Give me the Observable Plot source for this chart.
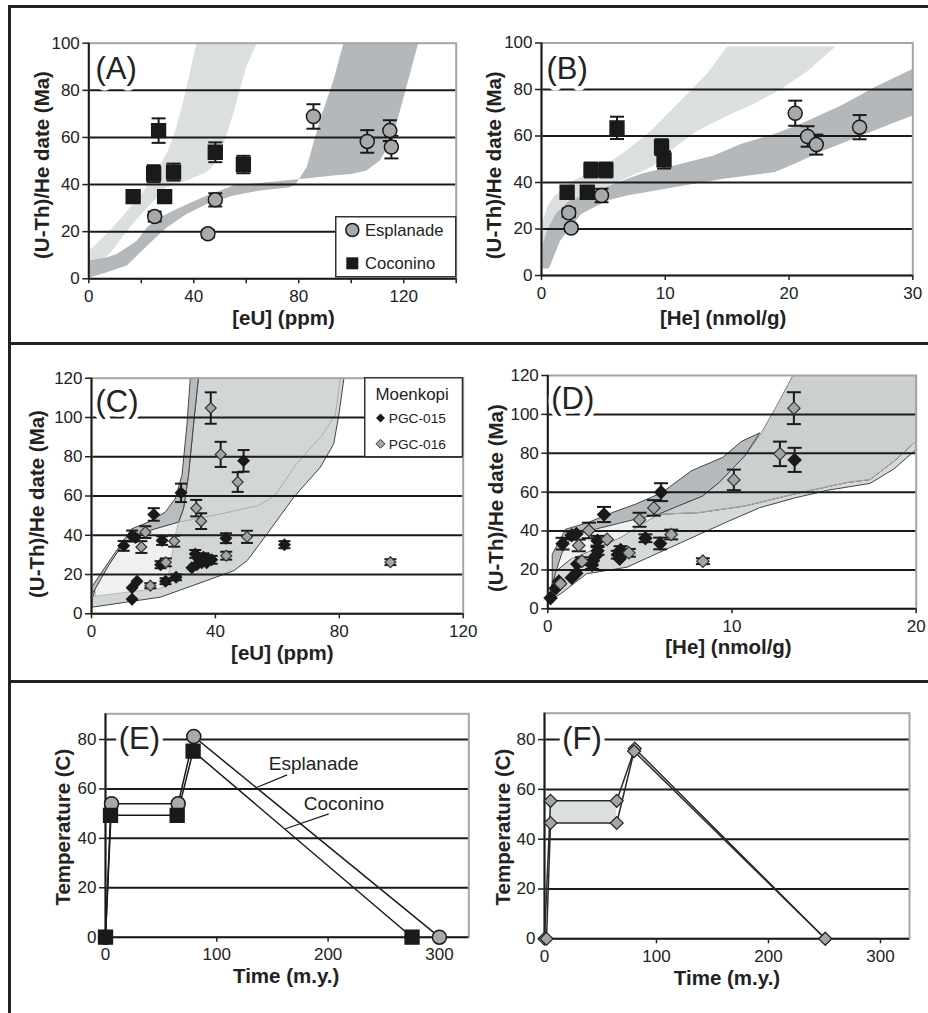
<!DOCTYPE html>
<html><head><meta charset="utf-8">
<script src="https://cdn.jsdelivr.net/npm/d3@7"></script>
<script src="https://cdn.jsdelivr.net/npm/@observablehq/plot@0.6"></script>
<style>
body{margin:0;background:#fff;}
#fig{position:relative;width:928px;height:1013px;overflow:hidden;background:#fff;font-family:'Liberation Sans',Arial,Helvetica,sans-serif;}
.hl{position:absolute;background:#222;}
.pn{position:absolute;}
</style></head><body><div id="fig"></div>
<script>
// ---------------- DATA ----------------
// [x, y, error]
const A_esplanade = [[25.1,26.4,2.1],[45.4,19.1,1.5],[48.2,33.5,2.8],[85.6,68.9,5.2],[106.1,58.3,4.8],[114.7,62.9,4.4],[115.3,55.9,4.8]];
const A_coconino  = [[16.9,34.9,2],[26.6,62.9,5.2],[24.7,44.6,3.6],[28.9,34.9,2],[32.3,45.3,3.6],[48.2,53.7,4.2],[58.9,48.5,3.7]];
const B_esplanade = [[2.2,27,1.8],[2.4,20.4,1.3],[4.85,34.4,2.9],[20.5,69.8,5.4],[21.5,59.8,4.4],[22.2,56.3,4.3],[25.7,63.8,5.2]];
const B_coconino  = [[2.07,35.8,2],[3.7,35.8,2],[4.0,45.4,3.2],[5.2,45.4,3.2],[6.1,63.5,4.8],[9.7,55.2,3.4],[9.9,49.7,3.7]];
const C_pgc015 = [[10.4,34.6,2.5],[13.1,39.6,2.8],[14.2,38.8,0],[20.1,50.6,3.2],[22.8,37.3,2.2],[22.3,25,1.8],[23.9,16.6,1.5],[27.3,18.6,1.5],[13.1,13.3,0],[14.7,16.6,0],[13.1,7.4,0],[28.9,61.6,4.7],[43.4,38.5,2.5],[49.1,77.9,5.5],[62.3,35.2,1.8],[33.5,30.5,2],[34.5,28,0],[36.1,28.8,2],[37.7,28,0],[38.8,27.5,2],[32.4,23.5,0],[34,25,0],[35.6,26,0],[37.2,26,0]];
const C_pgc016 = [[17.4,41.6,3],[16.1,34,3],[26.7,37,2.8],[24,26.2,2],[19,14.3,1.3],[38.5,104.8,8],[41.7,81.2,6.4],[47.2,67.1,5],[33.8,53.8,4.2],[35.4,47.2,4],[50.2,39.2,3.1],[43.5,29.6,2],[96.5,26.3,1.5]];
const D_pgc015 = [[0.8,33.5,3],[1.3,37.8,2],[1.55,38.5,0],[3.05,48.5,3.9],[2.7,35,2.5],[5.3,36.3,2],[6.1,33.6,3],[6.15,60,4.6],[13.4,76.6,6.2],[0.15,5.5,0],[0.42,10.5,0],[0.6,14,0],[1.3,16,0],[1.55,18.3,0],[1.6,23,0],[2.4,22.5,2],[2.45,24.7,0],[2.6,27.2,0],[2.7,29.8,2],[3.8,27.8,2],[3.95,30.2,2],[3.9,25.8,0]];
const D_pgc016 = [[2.23,40.3,4],[1.68,32.6,3],[3.22,35.7,0],[1.86,24.5,2],[0.69,12.9,0],[4.4,28.8,2],[4.98,45.8,3.6],[5.76,51.9,4],[6.7,38.2,2.5],[8.42,24.5,1.5],[10.1,66.3,5.3],[12.6,79.7,6.3],[13.36,103.2,8.2]];
// thermal histories [time, temperature]
const E_esplanade = [[0,0],[5.4,54],[65.3,54],[79.3,81.2],[300,0]];
const E_coconino  = [[0,0],[4.5,49.3],[64.4,49.3],[78.7,75.3],[275.4,0]];
const F_upper = [[0,0],[5.4,55.4],[64.5,55.4],[80.6,76.4],[250.7,0]];
const F_lower = [[1.8,0],[5.4,46.5],[64.5,46.5],[80,75.3],[250.7,0]];
const F_shade = [[5.4,46.5,55.4],[64.5,46.5,55.4]];
// model envelopes (polygons [x, y])
const A_bandLight = [[0,12],[3,15],[8,20.5],[14,28],[20,36],[25,44],[30,54],[33,63],[35,71],[38,85],[41,100],[64,100],[60,90],[57.7,81],[55,70],[52.6,61.5],[49,50],[45,45.3],[38,42],[29.8,38.9],[22,30],[14.6,20.5],[9,12],[5.7,8.5],[0.6,7.8],[0,7.8]];
const A_bandDark = [[0,7.8],[7,9.2],[10.8,10.6],[14,13],[18.4,16.3],[22.2,21.9],[27,26],[32.3,29],[38,32],[45,35.4],[55.1,39.6],[67.8,41],[80.5,42.4],[93.2,43.8],[100,44.5],[105.8,46],[110.9,50.2],[114,56],[117.2,65.8],[121,81.3],[125.5,100],[97,100],[93.2,84.2],[88,67.2],[83,47.4],[79,40.5],[76.7,38.9],[65.3,37.5],[55.1,35.4],[45,31.8],[37.4,27.6],[29.8,21.9],[25,17],[20.9,12.7],[14.6,5.7],[7,2.8],[0.6,0.7],[0,0.7]];
const B_bandLight = [[0,12],[0,22],[0.5,30],[1,34],[2.6,41],[5.3,48],[6.9,54],[8.8,62],[11.2,75],[13.4,87],[15,98.5],[23.75,98.5],[21.5,88],[19.3,80],[17.2,74],[14.7,68],[12.5,62],[10.5,54],[9,47],[6,40],[4,36],[2,29],[0.5,14]];
const B_bandDark = [[0,3],[0,12],[0.5,20],[1.2,27],[2.2,32],[3.96,35.8],[8,43.7],[13.9,51.6],[16.1,56.6],[18.8,60.9],[20.9,65.2],[24.2,73.1],[26.9,81],[30,88.9],[30,68.8],[28.2,65.2],[25.5,59.5],[22.8,53.8],[20.4,48],[18.8,44.4],[14.7,41.6],[10.7,38],[6.9,34.4],[5.3,32.3],[3.2,26.5],[1.5,15],[0.6,3]];
const C_bandWide = [[0.3,3.4],[22.3,8.5],[37.3,17],[46,22],[50.3,27.2],[56.7,40.7],[65.3,59.4],[73.9,74.7],[78.2,86.6],[79.9,101.8],[81.5,120],[34.5,120],[32.9,96],[31.3,70.5],[29.7,53.5],[28.1,46.7],[20,43],[10,35],[5.5,24.6],[1.2,12.7],[0.3,8]];
const C_bandPale = [[1.2,9],[22,13],[24,14.5],[25.5,25],[26.6,37.3],[28.1,46.7],[20.6,43.3],[15.2,40.7],[9.8,34.8],[5.5,24.6],[1.2,12.7]];
const C_bandSteep = [[0,13.5],[5.5,26.3],[13,43.3],[18.4,46.7],[23.8,51.8],[27,58.6],[29.2,70.5],[30.8,96],[31.9,120],[34.5,120],[32.9,96],[31.3,70.5],[29.7,53.5],[28.1,46.7],[20.6,43.3],[15.2,40.7],[9.8,34.8],[5.5,24.6],[1.2,12.7],[0.3,10.5]];
const C_edge = [[28.1,46.7],[42.1,51],[53.9,55.2],[59.3,60.3],[65.8,75.6],[74.4,90.9],[78.7,101.1],[80.3,119.5]];
const D_bandLower = [[0.1,4.3],[0.7,7.7],[2.1,18],[4.3,21.4],[6.5,30.9],[7.9,36.9],[9.7,44.6],[11.5,52],[13.4,57],[15.2,61],[17.5,64.5],[18.8,72],[20,82],[20,86.3],[18.8,76],[17.5,66.5],[16.2,64.9],[13.3,58.9],[10.7,52.9],[8.2,49.5],[6,48.6],[5,43],[4,37],[2.6,31],[1.3,26],[0.4,19],[0.1,8]];
const D_bandRight = [[6,48.6],[7.1,53],[8.4,58],[9.3,65],[10.7,78.7],[11.6,90.7],[12.4,104],[13.3,120],[20,120],[20,86.3],[18.8,76],[17.5,66.5],[16.2,64.9],[13.3,58.9],[10.7,52.9],[8.2,49.5]];
const D_bandPale = [[0.5,24],[0.78,29],[1.32,37.5],[2.6,41],[4.76,46.1],[6,48.6],[5,43],[4,37],[2.6,31],[1.3,26]];
const D_bandUpper = [[0.24,12],[0.24,28],[0.96,40.9],[2.2,44.4],[3.5,49.5],[4.76,53.8],[6.2,59.8],[7.8,71],[9.5,77.9],[10.5,86],[11.5,90.5],[10.7,78.7],[9.3,65],[8.4,58],[7.1,53],[6,48.6],[4.76,46.1],[2.6,41],[1.32,37.5],[0.78,29],[0.4,18]];
const D_edge = [[6,48.6],[8.2,49.5],[10.7,52.9],[13.3,58.9],[16.2,64.9],[17.5,66.5],[18.8,76],[20,86.3]];
// ticks
const ticksA_x = [0,20,40,60,80,100,120,140], ticksA_y = [0,20,40,60,80,100];
const ticksB_x = [0,10,20,30];
const ticksC_x = [0,40,80,120], ticksC_y = [0,20,40,60,80,100,120];
const ticksD_x = [0,10,20];
const ticksE_x = [0,100,200,300], ticksE_y = [0,20,40,60,80];
const gridAB = [20,40,60,80], gridCD = [20,40,60,80,100], gridEF = [20,40,60,80];
// annotations (panel E)
const E_labels = [{x:146.7,y:70.2,t:"Esplanade"},{x:178.1,y:54,t:"Coconino"}];
const E_leaders = [[163.2,65.7,136.3,60.7],[200.6,49.9,161.7,43.9]];

// ---------------- DRAWING ----------------
const FONT = "'Liberation Sans', Arial, Helvetica, sans-serif";
const INK = "#1a1a1a";
const LIGHT = "#dcdfe0", DARK = "#b5b8ba", GREY = "#a7aaac", DGREY = "#a3a6a8";
const cap = {draw(ctx, size){ const w = Math.sqrt(size/Math.PI); ctx.moveTo(-w,0); ctx.lineTo(w,0); }};
const fx = d => d[0], fy = d => d[1];

function errMarks(pts, capR){
  const e = pts.filter(d => d[2] > 0);
  return [
    Plot.ruleX(e, {x: fx, y1: d => d[1]-d[2], y2: d => d[1]+d[2], stroke: INK, strokeWidth: 2}),
    Plot.dot(e, {x: fx, y: d => d[1]+d[2], symbol: cap, r: capR, fill: "none", stroke: INK, strokeWidth: 2}),
    Plot.dot(e, {x: fx, y: d => d[1]-d[2], symbol: cap, r: capR, fill: "none", stroke: INK, strokeWidth: 2})
  ];
}
function band(poly, fill, stroke, sw){
  return Plot.line([...poly, poly[0]], {x: fx, y: fy, fill, stroke: stroke || "none", strokeWidth: sw || 0.8});
}

const fig = document.getElementById("fig");
function panel(cfg){
  const [L,T,W,H] = cfg.box, [x0,y0,x1,y1] = cfg.frame;
  const svg = Plot.plot({
    width: W, height: H,
    marginLeft: x0-L, marginRight: L+W-x1, marginTop: y0-T, marginBottom: T+H-y1,
    x: {domain: cfg.xDomain, label: null},
    y: {domain: cfg.yDomain, label: null},
    style: {background: "transparent", overflow: "visible", fontFamily: FONT, fontSize: "17px", color: "#222"},
    marks: [
      ...cfg.under,
      Plot.ruleY(cfg.grid, {stroke: INK, strokeWidth: 2}),
      Plot.frame({stroke: "#a2a6a9", strokeWidth: 2}),
      Plot.ruleX([cfg.xDomain[0]], {stroke: INK, strokeWidth: 2}),
      Plot.ruleY([cfg.yDomain[0]], {stroke: INK, strokeWidth: 2}),
      Plot.axisX({ticks: cfg.xTicks, tickSize: 5, tickPadding: 6, strokeWidth: 1.5, label: null,
                  tickFormat: d => (d % cfg.xEvery === 0 ? String(d) : "")}),
      Plot.axisY({ticks: cfg.yTicks, tickSize: 6, tickPadding: 3, strokeWidth: 1.5, label: null}),
      ...cfg.over,
      Plot.text([cfg.xTitle], {text: d => d, frameAnchor: "bottom", dx: cfg.xT[0], dy: cfg.xT[1] + 1.5, lineAnchor: "middle", textAnchor: "middle", fontWeight: "bold", fontSize: 20.5, fill: "#222"}),
      Plot.text([cfg.yTitle], {text: d => d, frameAnchor: "left", dx: cfg.yT[0], dy: cfg.yT[1], rotate: -90, lineAnchor: "middle", textAnchor: "middle", fontWeight: "bold", fontSize: 20.5, fill: "#222"}),
      Plot.text([cfg.tag], {text: d => d, frameAnchor: "top-left", dx: cfg.tagP[0], dy: cfg.tagP[1], lineAnchor: "middle", textAnchor: "start", fontSize: 31, fill: "#222", stroke: "white", strokeWidth: 9})
    ]
  });
  const div = document.createElement("div");
  div.className = "pn";
  div.style.left = L + "px"; div.style.top = T + "px";
  div.appendChild(svg);
  fig.appendChild(div);
}

// Panel A
panel({box:[0,0,464,340], frame:[88.3,42.7,455.7,278.3], xDomain:[0,140], yDomain:[0,100],
  xTicks: ticksA_x, xEvery: 40, yTicks: ticksA_y, grid: gridAB,
  under: [band(A_bandLight, LIGHT), band(A_bandDark, DARK)],
  over: [...errMarks(A_esplanade, 7), ...errMarks(A_coconino, 7),
    Plot.dot(A_esplanade, {x: fx, y: fy, r: 7, fill: GREY, stroke: INK, strokeWidth: 1.5}),
    Plot.dot(A_coconino, {x: fx, y: fy, symbol: "square", r: 7.8, fill: INK, stroke: INK})],
  xTitle: "[eU] (ppm)", xT: [11, 38], yTitle: "(U-Th)/He date (Ma)", yT: [-46, 4], tag: "(A)", tagP: [6.7, 25.6]});

// Panel B
panel({box:[464,0,464,340], frame:[541,42.5,912.3,275], xDomain:[0,30], yDomain:[0,100],
  xTicks: ticksB_x, xEvery: 10, yTicks: ticksA_y, grid: gridAB,
  under: [band(B_bandLight, LIGHT), band(B_bandDark, DARK)],
  over: [...errMarks(B_esplanade, 7), ...errMarks(B_coconino, 7),
    Plot.dot(B_coconino, {x: fx, y: fy, symbol: "square", r: 7.8, fill: INK, stroke: INK}),
    Plot.dot(B_esplanade, {x: fx, y: fy, r: 7, fill: GREY, stroke: INK, strokeWidth: 1.5})],
  xTitle: "[He] (nmol/g)", xT: [-4, 41], yTitle: "(U-Th)/He date (Ma)", yT: [-46.7, 6], tag: "(B)", tagP: [5, 25.8]});

// Panel C
panel({box:[0,340,470,340], frame:[91,377.7,462.7,613.3], xDomain:[0,120], yDomain:[0,120],
  xTicks: ticksC_x, xEvery: 40, yTicks: ticksC_y, grid: gridCD,
  under: [band(C_bandWide, "#d3d6d7", "#444", 1), band(C_bandPale, "#eff1f1", "#999", 0.6),
          band(C_bandSteep, "#babdbf", "#444", 1),
          Plot.line(C_edge, {x: fx, y: fy, stroke: "#a9acae", strokeWidth: 1})],
  over: [...errMarks(C_pgc015, 6), ...errMarks(C_pgc016, 6),
    Plot.dot(C_pgc015, {x: fx, y: fy, symbol: "diamond2", r: 4.9, fill: INK, stroke: INK}),
    Plot.dot(C_pgc016, {x: fx, y: fy, symbol: "diamond2", r: 4.9, fill: DGREY, stroke: "#333", strokeWidth: 1.2})],
  xTitle: "[eU] (ppm)", xT: [5, 38.4], yTitle: "(U-Th)/He date (Ma)", yT: [-53.7, 8], tag: "(C)", tagP: [4, 24]});

// Panel D
panel({box:[464,340,464,340], frame:[547.3,375,915.7,608.3], xDomain:[0,20], yDomain:[0,120],
  xTicks: ticksD_x, xEvery: 10, yTicks: ticksC_y, grid: gridCD,
  under: [band(D_bandLower, "#d6d9da", "#444", 1), band(D_bandRight, "#cbcfd0", "#666", 0.8),
          band(D_bandPale, "#eff1f1", "none"), band(D_bandUpper, "#b7babc", "#444", 1),
          Plot.line(D_edge, {x: fx, y: fy, stroke: "#a9acae", strokeWidth: 1})],
  over: [...errMarks(D_pgc015, 7), ...errMarks(D_pgc016, 7),
    Plot.dot(D_pgc015, {x: fx, y: fy, symbol: "diamond2", r: 5.6, fill: INK, stroke: INK}),
    Plot.dot(D_pgc016, {x: fx, y: fy, symbol: "diamond2", r: 5.6, fill: DGREY, stroke: "#333", strokeWidth: 1.2})],
  xTitle: "[He] (nmol/g)", xT: [-3.5, 37.4], yTitle: "(U-Th)/He date (Ma)", yT: [-51.5, 6], tag: "(D)", tagP: [3.4, 24]});

// Panel E
panel({box:[0,680,470,333], frame:[105,713.3,468.3,936.7], xDomain:[0,326.4], yDomain:[0,90.4],
  xTicks: ticksE_x, xEvery: 100, yTicks: ticksE_y, grid: gridEF,
  under: [],
  over: [
    Plot.line(E_esplanade, {x: fx, y: fy, stroke: INK, strokeWidth: 1.5}),
    Plot.line(E_coconino, {x: fx, y: fy, stroke: INK, strokeWidth: 1.5}),
    Plot.link(E_leaders, {x1: d => d[0], y1: d => d[1], x2: d => d[2], y2: d => d[3], stroke: INK, strokeWidth: 1.2}),
    Plot.text(E_labels, {x: "x", y: "y", text: "t", textAnchor: "start", fontSize: 19, fill: "#222"}),
    Plot.dot(E_esplanade, {x: fx, y: fy, r: 7, fill: GREY, stroke: INK, strokeWidth: 1.5}),
    Plot.dot(E_coconino, {x: fx, y: fy, symbol: "square", r: 7.8, fill: INK, stroke: INK})],
  xTitle: "Time (m.y.)", xT: [-1, 37.3], yTitle: "Temperature (C)", yT: [-42.5, 1.7], tag: "(E)", tagP: [13.3, 25.7]});

// Panel F
panel({box:[464,680,464,333], frame:[544,712.7,909,938.3], xDomain:[0,325.9], yDomain:[0,90.6],
  xTicks: ticksE_x, xEvery: 100, yTicks: ticksE_y, grid: gridEF,
  under: [Plot.areaY(F_shade, {x: d => d[0], y1: d => d[1], y2: d => d[2], fill: LIGHT})],
  over: [
    Plot.line(F_upper, {x: fx, y: fy, stroke: "#2a2a2a", strokeWidth: 1.5}),
    Plot.line(F_lower, {x: fx, y: fy, stroke: "#2a2a2a", strokeWidth: 1.5}),
    Plot.dot([...F_upper, ...F_lower], {x: fx, y: fy, symbol: "diamond2", r: 5.8, fill: DGREY, stroke: "#222", strokeWidth: 1.2})],
  xTitle: "Time (m.y.)", xT: [0, 38.4], yTitle: "Temperature (C)", yT: [-41.5, 1], tag: "(F)", tagP: [17.7, 26.3]});

// Legends
function overlay(html){ const d = document.createElement("div"); d.innerHTML = html; const s = d.firstElementChild; fig.appendChild(s); }
overlay(`<svg class="pn" style="left:335px;top:216px" width="122" height="62" font-family="${FONT.replace(/'/g,'')}">
  <rect x="0.75" y="0.75" width="120" height="60" fill="white" stroke="#333" stroke-width="1.5"/>
  <circle cx="17.3" cy="14" r="6.5" fill="${GREY}" stroke="${INK}" stroke-width="1.5"/>
  <text x="30" y="19.8" font-size="16.6" fill="#222">Esplanade</text>
  <rect x="11.3" y="41.3" width="12" height="12" fill="${INK}"/>
  <text x="30" y="53.1" font-size="16.6" fill="#222">Coconino</text></svg>`);
overlay(`<svg class="pn" style="left:363.5px;top:377px" width="100" height="81" font-family="${FONT.replace(/'/g,'')}">
  <rect x="0.75" y="0.75" width="97.7" height="79" fill="white" stroke="#333" stroke-width="1.5"/>
  <text x="11.5" y="23.3" font-size="16.9" fill="#222">Moenkopi</text>
  <path d="M16.5,36.5L21,41L16.5,45.5L12,41Z" fill="${INK}"/>
  <text x="24.8" y="45.9" font-size="13.7" fill="#222">PGC-015</text>
  <path d="M16.5,62.3L21,66.8L16.5,71.3L12,66.8Z" fill="${DGREY}" stroke="#333" stroke-width="1"/>
  <text x="24.8" y="71.7" font-size="13.7" fill="#222">PGC-016</text></svg>`);

// Figure frame lines
[[7.5,5,920.5,3],[7.5,5,3,1008],[7.5,341.5,920.5,3],[7.5,679.5,920.5,3]].forEach(([l,t,w,h]) => {
  const d = document.createElement("div"); d.className = "hl";
  d.style.left = l+"px"; d.style.top = t+"px"; d.style.width = w+"px"; d.style.height = h+"px";
  fig.appendChild(d);
});
</script></body></html>
